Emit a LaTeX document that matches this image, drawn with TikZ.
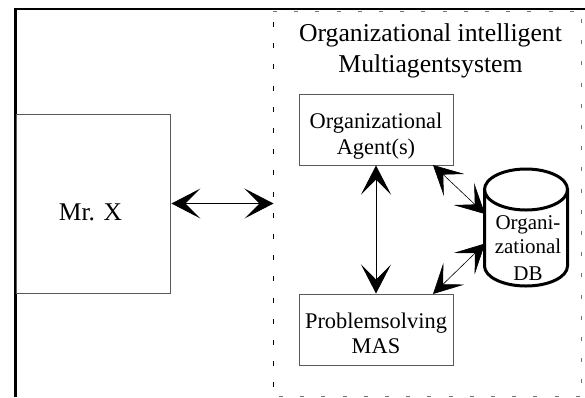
\documentclass[tikz,border=0pt]{standalone}
\usepackage{fontspec}
\setmainfont{Liberation Serif}
\usetikzlibrary{arrows.meta}
\newcommand{\liftedlines}[3]{\smash{\raisebox{#1}{\begin{tabular}[b]{@{}c@{}}#2\\#3\end{tabular}}}}
\tikzset{
  box/.style={draw=black!65,line width=1pt,fill=white,inner sep=0pt,align=center,font=\fontsize{22.4}{25.5}\selectfont},
  sep/.style={draw=black,line width=.9pt,dash pattern=on 5pt off 16.2pt},
  sepgray/.style={draw=black!55,line width=1pt,dash pattern=on 4pt off 17.2pt},
  link/.style={line width=.9pt,{Stealth[length=29pt,width=30pt,inset=15pt]}-{Stealth[length=29pt,width=30pt,inset=15pt]}},
  thinlink/.style={link,line width=.6pt},
  heavy/.style={line width=3pt,draw=black,line cap=round},
  plain/.style={inner sep=0pt,align=center}
}
\begin{document}
\begin{tikzpicture}[x=1pt,y=-1pt]
\useasboundingbox (0,0) rectangle (585,397);
\fill[white] (0,0) rectangle (585,397);
% outer frame
\draw[line width=2.8pt] (15.2,397) -- (15.2,9) -- (585,9);
% separators
\draw[sep] (273.5,22) -- (273.5,397);
\draw[sepgray] (273,11) -- (585,11);
\draw[sepgray] (581.7,19) -- (581.7,395);
\draw[sepgray] (279,396.5) -- (581,396.5);
% title
\node[plain,font=\fontsize{25.7}{31.6}\selectfont] (title) at (430.5,51) {Organizational intelligent\\Multiagentsystem};
% boxes
\node[box,minimum width=154.5pt,minimum height=179pt,font=\fontsize{25.5}{31}\selectfont] (mrx) at (93.7,203.5) {\hspace*{-6.5pt}\smash{\raisebox{-16.5pt}{Mr. X}}};
\node[box,minimum width=154pt,minimum height=71pt] (oa) at (376,129.5) {\liftedlines{-24.8pt}{Organizational}{Agent(s)}};
\node[box,minimum width=154pt,minimum height=71pt] (pm) at (376,329.5) {\liftedlines{-24.3pt}{Problemsolving}{MAS}};
% database cylinder
\draw[heavy] (526,189.5) ellipse [x radius=41.5,y radius=20.5];
\draw[heavy] (484.5,189.5) -- (484.5,266) arc[start angle=180,end angle=0,x radius=41.5,y radius=20] -- (567.5,189.5);
\node[plain,font=\fontsize{21}{25.5}\selectfont] (db) at (528,248) {Organi-\\[-1.5pt]zational\\[1.5pt]DB};
% anchors on the separator and the database
\coordinate (sepin) at (273.5,203.5);
\coordinate (dbu) at (485,214);
\coordinate (dbl) at (485,243.5);
\coordinate (oac) at (433,165);
\coordinate (pmc) at (433,294);
% connectors
\draw[link] (mrx.east) -- (sepin);
\draw[link] (oa.south) -- (pm.north);
\draw[thinlink] (oac) -- (dbu);
\draw[thinlink] (pmc) -- (dbl);
\end{tikzpicture}
\end{document}
